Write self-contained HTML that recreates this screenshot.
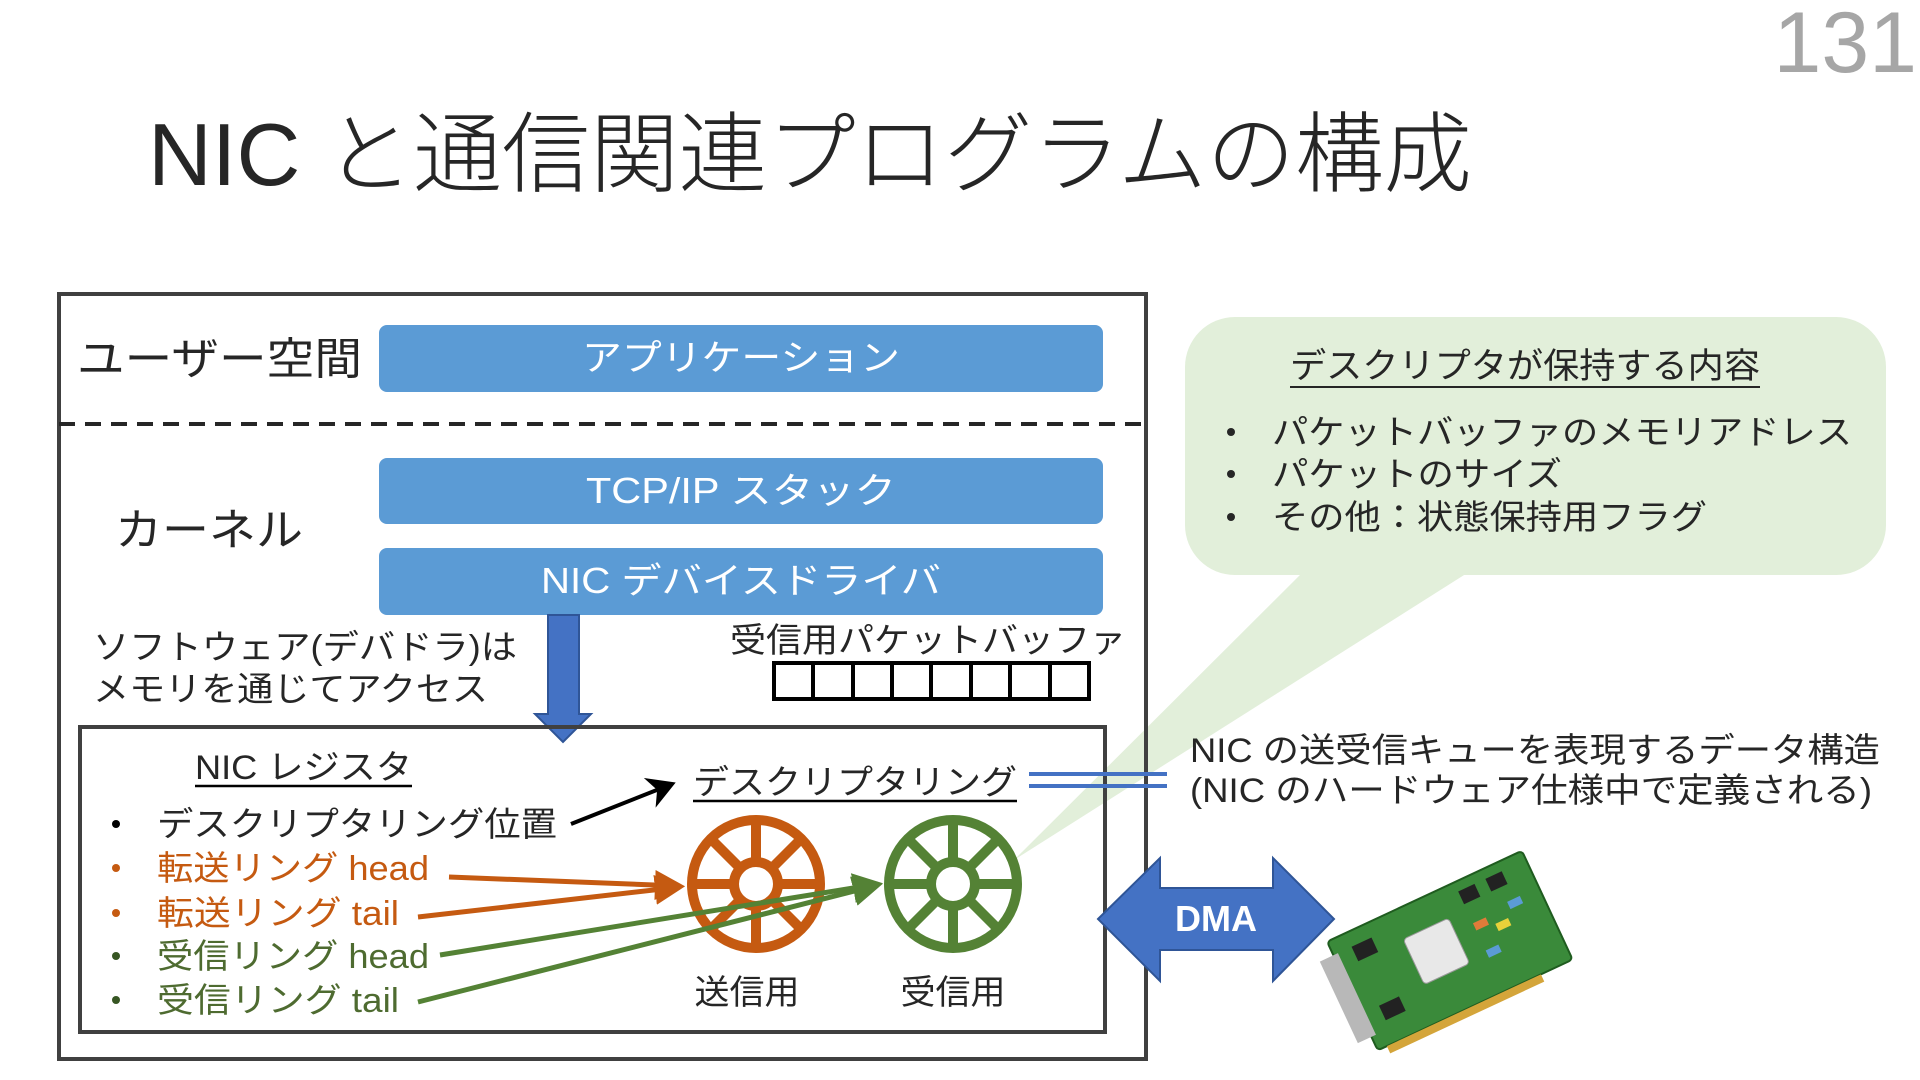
<!DOCTYPE html>
<html><head><meta charset="utf-8"><style>
html,body{margin:0;padding:0;background:#fff;}
svg{display:block;font-family:"Liberation Sans","Noto Sans CJK JP",sans-serif;}
</style></head><body>
<svg width="1920" height="1080" viewBox="0 0 1920 1080" xmlns="http://www.w3.org/2000/svg">
<defs>
<marker id="ab" markerWidth="8" markerHeight="8" refX="6" refY="4" orient="auto" markerUnits="strokeWidth"><path d="M0,0 L7,4 L0,8 L2,4z" fill="#000"/></marker>
<marker id="ao" markerWidth="6" markerHeight="6" refX="5" refY="3" orient="auto" markerUnits="strokeWidth"><path d="M0,0 L6,3 L0,6z" fill="#c55a11"/></marker>
<marker id="ag" markerWidth="6" markerHeight="6" refX="5" refY="3" orient="auto" markerUnits="strokeWidth"><path d="M0,0 L6,3 L0,6z" fill="#548235"/></marker>
</defs>
<text x="1917" y="72" font-size="86" fill="#a6a6a6" text-anchor="end" font-weight="300">131</text>
<text x="148" y="185" font-size="88" fill="#262626" font-weight="300" textLength="1324" lengthAdjust="spacingAndGlyphs">NIC と通信関連プログラムの構成</text>

<!-- speech bubble -->
<path d="M1305,570 L1014,860 L1472,570z" fill="#e2efda"/>
<rect x="1185" y="317" width="701" height="258" rx="50" fill="#e2efda"/>
<text x="1290" y="378" font-size="35" fill="#262626" textLength="470" lengthAdjust="spacingAndGlyphs">デスクリプタが保持する内容</text>
<line x1="1290" y1="387" x2="1760" y2="387" stroke="#262626" stroke-width="2"/>
<g font-size="34" fill="#262626">
<circle cx="1231" cy="432" r="4"/><text x="1272" y="444" textLength="580" lengthAdjust="spacingAndGlyphs">パケットバッファのメモリアドレス</text>
<circle cx="1231" cy="474" r="4"/><text x="1272" y="486" textLength="290" lengthAdjust="spacingAndGlyphs">パケットのサイズ</text>
<circle cx="1231" cy="517" r="4"/><text x="1272" y="529" textLength="435" lengthAdjust="spacingAndGlyphs">その他：状態保持用フラグ</text>
</g>

<!-- outer box -->
<rect x="59" y="294" width="1087" height="765" fill="none" stroke="#404040" stroke-width="4"/>
<line x1="59" y1="424" x2="1146" y2="424" stroke="#262626" stroke-width="4" stroke-dasharray="16,10"/>
<text x="77" y="374" font-size="44" fill="#262626" textLength="285" lengthAdjust="spacingAndGlyphs">ユーザー空間</text>
<text x="115" y="545" font-size="44" fill="#262626" textLength="188" lengthAdjust="spacingAndGlyphs">カーネル</text>

<g fill="#5b9bd5">
<rect x="379" y="325" width="724" height="67" rx="8"/>
<rect x="379" y="458" width="724" height="66" rx="8"/>
<rect x="379" y="548" width="724" height="67" rx="8"/>
</g>
<g fill="#fff" font-size="36" text-anchor="middle">
<text x="741" y="370" textLength="318" lengthAdjust="spacingAndGlyphs">アプリケーション</text>
<text x="741" y="503" textLength="310" lengthAdjust="spacingAndGlyphs">TCP/IP スタック</text>
<text x="741" y="593" textLength="400" lengthAdjust="spacingAndGlyphs">NIC デバイスドライバ</text>
</g>

<!-- down arrow -->
<path d="M548,615 L579,615 L579,714 L591,714 L563,742 L535,714 L548,714z" fill="#4472c4" stroke="#2f5597" stroke-width="2"/>

<g font-size="34" fill="#262626">
<text x="93" y="659" textLength="424" lengthAdjust="spacingAndGlyphs">ソフトウェア(デバドラ)は</text>
<text x="93" y="701" textLength="395" lengthAdjust="spacingAndGlyphs">メモリを通じてアクセス</text>
<text x="730" y="652" textLength="396" lengthAdjust="spacingAndGlyphs">受信用パケットバッファ</text>
</g>
<g fill="none" stroke="#000" stroke-width="4">
<rect x="774" y="663" width="315" height="36"/>
<path d="M813,663v36M853,663v36M892,663v36M931,663v36M971,663v36M1010,663v36M1050,663v36"/>
</g>

<!-- NIC box -->
<rect x="80" y="727" width="1025" height="305" fill="none" stroke="#404040" stroke-width="4"/>
<text x="195" y="779" font-size="34" fill="#262626" textLength="217" lengthAdjust="spacingAndGlyphs">NIC レジスタ</text>
<line x1="195" y1="786" x2="412" y2="786" stroke="#000" stroke-width="2.5"/>
<text x="693" y="794" font-size="34" fill="#262626" textLength="324" lengthAdjust="spacingAndGlyphs">デスクリプタリング</text>
<line x1="693" y1="801" x2="1017" y2="801" stroke="#000" stroke-width="2.5"/>

<g font-size="34">
<circle cx="116" cy="824" r="4" fill="#000"/><text x="157" y="836" fill="#262626" textLength="400" lengthAdjust="spacingAndGlyphs">デスクリプタリング位置</text>
<circle cx="116" cy="868" r="4" fill="#c55a11"/><text x="157" y="880" fill="#c55a11" textLength="272" lengthAdjust="spacingAndGlyphs">転送リング head</text>
<circle cx="116" cy="913" r="4" fill="#c55a11"/><text x="157" y="925" fill="#c55a11" textLength="242" lengthAdjust="spacingAndGlyphs">転送リング tail</text>
<circle cx="116" cy="956" r="4" fill="#375623"/><text x="157" y="968" fill="#4e6b30" textLength="272" lengthAdjust="spacingAndGlyphs">受信リング head</text>
<circle cx="116" cy="1000" r="4" fill="#375623"/><text x="157" y="1012" fill="#4e6b30" textLength="242" lengthAdjust="spacingAndGlyphs">受信リング tail</text>
</g>
<line x1="571" y1="824" x2="672" y2="784" stroke="#000" stroke-width="4" marker-end="url(#ab)"/>

<!-- wheels -->
<g stroke="#c55a11" fill="none" stroke-width="10">
<circle cx="756" cy="884" r="64"/><circle cx="756" cy="884" r="22"/>
<path d="M756,820v42M756,906v42M692,884h42M778,884h42M711,839l30,30M771,899l30,30M801,839l-30,30M741,899l-30,30"/>
</g>
<g stroke="#548235" fill="none" stroke-width="10">
<circle cx="953" cy="884" r="64"/><circle cx="953" cy="884" r="22"/>
<path d="M953,820v42M953,906v42M889,884h42M975,884h42M908,839l30,30M968,899l30,30M998,839l-30,30M938,899l-30,30"/>
</g>
<g font-size="34" fill="#262626" text-anchor="middle">
<text x="747" y="1004" textLength="105" lengthAdjust="spacingAndGlyphs">送信用</text>
<text x="953" y="1004" textLength="105" lengthAdjust="spacingAndGlyphs">受信用</text>
</g>
<g stroke-width="5" fill="none">
<line x1="449" y1="877" x2="680" y2="886" stroke="#c55a11" marker-end="url(#ao)"/>
<line x1="418" y1="917" x2="680" y2="887" stroke="#c55a11" marker-end="url(#ao)"/>
<line x1="440" y1="955" x2="878" y2="884" stroke="#548235" marker-end="url(#ag)"/>
<line x1="418" y1="1002" x2="878" y2="885" stroke="#548235" marker-end="url(#ag)"/>
</g>

<!-- double lines -->
<g stroke="#4472c4" stroke-width="4"><line x1="1029" y1="774" x2="1167" y2="774"/><line x1="1029" y1="786" x2="1167" y2="786"/></g>
<g font-size="34" fill="#262626">
<text x="1190" y="762" textLength="690" lengthAdjust="spacingAndGlyphs">NIC の送受信キューを表現するデータ構造</text>
<text x="1190" y="802" textLength="682" lengthAdjust="spacingAndGlyphs">(NIC のハードウェア仕様中で定義される)</text>
</g>

<!-- DMA arrow -->
<path d="M1098,919 L1160,858 L1160,888 L1273,888 L1273,858 L1334,919 L1273,981 L1273,950 L1160,950 L1160,981z" fill="#4472c4" stroke="#2f5597" stroke-width="2"/>
<text x="1216" y="931" font-size="36" font-weight="bold" fill="#fff" text-anchor="middle">DMA</text>

<!-- NIC card -->
<g transform="translate(1450,945) rotate(-25)">
<rect x="-110" y="-55" width="215" height="120" rx="4" fill="#3a8a3a" stroke="#1f5c1f" stroke-width="2"/>
<rect x="-125" y="-40" width="20" height="90" fill="#b8b8b8"/>
<rect x="-40" y="-25" width="50" height="50" rx="4" fill="#e8e8e8" stroke="#999"/>
<rect x="-90" y="-40" width="22" height="16" fill="#222"/><rect x="-90" y="25" width="22" height="16" fill="#222"/>
<rect x="30" y="-45" width="18" height="14" fill="#222"/><rect x="60" y="-45" width="18" height="14" fill="#222"/>
<rect x="30" y="-10" width="14" height="8" fill="#e07b39"/><rect x="50" y="0" width="14" height="8" fill="#e8d13a"/>
<rect x="70" y="-15" width="14" height="8" fill="#5b9bd5"/><rect x="30" y="20" width="14" height="8" fill="#5b9bd5"/>
<rect x="-100" y="65" width="170" height="8" fill="#d4a53a"/>
</g>
</svg>
</body></html>
